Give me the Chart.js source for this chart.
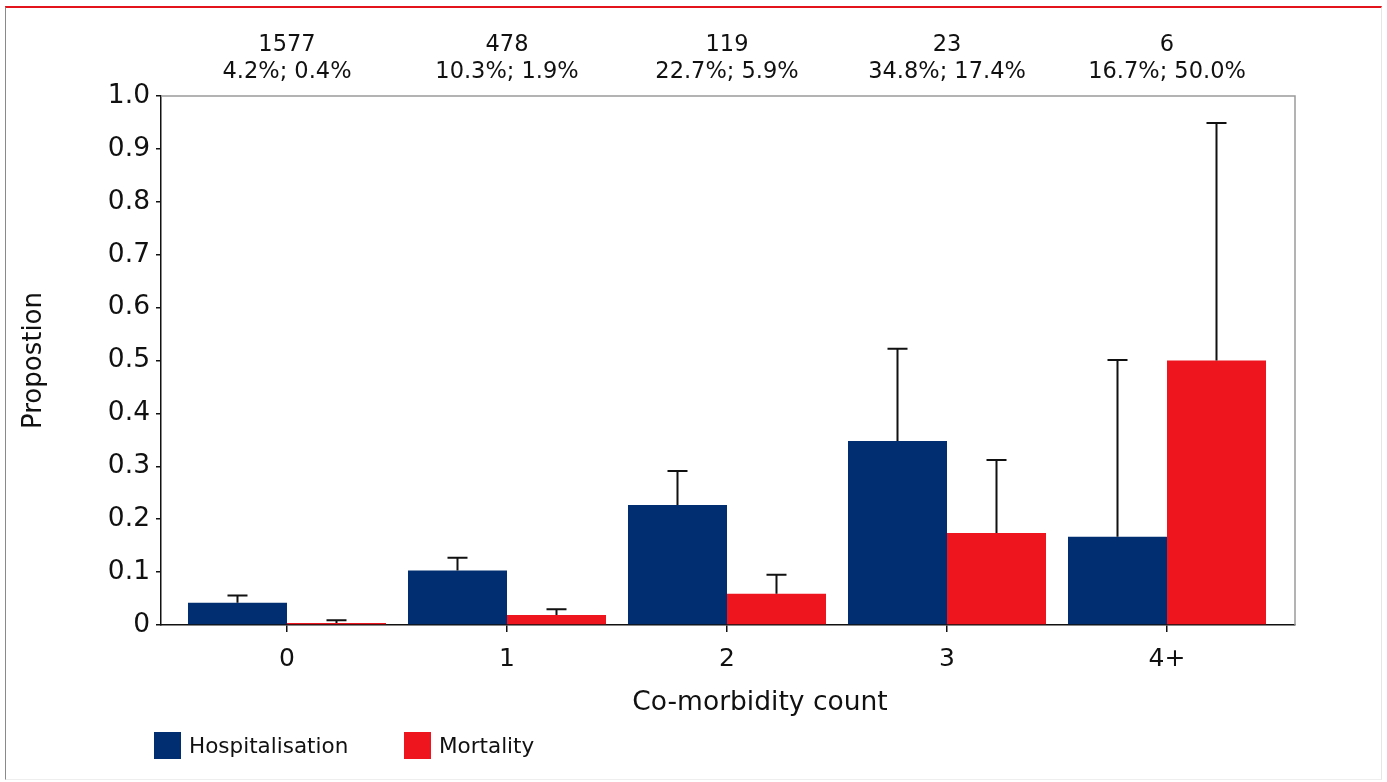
<!DOCTYPE html>
<html>
<head>
<meta charset="utf-8">
<script src="https://cdn.jsdelivr.net/npm/chart.js@4.4.1/dist/chart.umd.min.js"></script>
<style>
  html, body { margin: 0; padding: 0; background: #fff; }
  #frame {
    position: absolute; left: 5px; top: 6px; width: 1375px; height: 771px;
    border-top: 2px solid #e3141c; border-left: 1px solid #8a8a8a;
    border-right: 1px solid #e6e6e6; border-bottom: 1px solid #eeeeee;
  }
  #chart { position: absolute; left: 0; top: 0; }
</style>
</head>
<body>
<div id="frame"></div>
<canvas id="chart" width="1387" height="782"></canvas>
<script>
// data
const categories = ['0', '1', '2', '3', '4+'];
const patientCounts = ['1577', '478', '119', '23', '6'];
const hospitalisationPct = [4.2, 10.3, 22.7, 34.8, 16.7];
const mortalityPct = [0.4, 1.9, 5.9, 17.4, 50.0];
const hospitalisationUpper = [0.056, 0.127, 0.291, 0.522, 0.501];
const mortalityUpper = [0.009, 0.030, 0.095, 0.312, 0.949];
const yTicks = [0, 0.1, 0.2, 0.3, 0.4, 0.5, 0.6, 0.7, 0.8, 0.9, 1.0];

const BLUE = '#012e70';
const RED = '#ee151f';
const FONT = 'DejaVu Sans, Verdana, sans-serif';

function toPoints(pcts) {
    return pcts.map((p, i) => ({ x: i, y: p / 100 }));
}

// box: grey top/right edges of the plot
const plotBox = {
    id: 'plotBox',
    beforeDatasetsDraw(chart) {
        const a = chart.chartArea, c = chart.ctx;
        c.save();
        c.strokeStyle = '#9a9a9a';
        c.lineWidth = 1.5;
        c.beginPath();
        c.moveTo(a.left, a.top);
        c.lineTo(a.right, a.top);
        c.lineTo(a.right, a.bottom);
        c.stroke();
        c.restore();
    }
};

// upper error bars
const errorBars = {
    id: 'errorBars',
    afterDatasetsDraw(chart) {
        const c = chart.ctx, y = chart.scales.y;
        const uppers = [hospitalisationUpper, mortalityUpper];
        c.save();
        c.strokeStyle = '#111';
        c.lineWidth = 2;
        chart.data.datasets.forEach((ds, di) => {
            chart.getDatasetMeta(di).data.forEach((bar, i) => {
                const top = y.getPixelForValue(uppers[di][i]);
                c.beginPath();
                c.moveTo(bar.x, bar.y);
                c.lineTo(bar.x, top);
                c.moveTo(bar.x - 10, top);
                c.lineTo(bar.x + 10, top);
                c.stroke();
            });
        });
        c.restore();
    }
};

// counts and percentages above the plot, x title and legend below
const annotations = {
    id: 'annotations',
    afterDraw(chart) {
        const c = chart.ctx, x = chart.scales.x;
        c.save();
        c.fillStyle = '#111';
        c.font = '22.5px ' + FONT;
        c.textAlign = 'center';
        c.textBaseline = 'middle';
        categories.forEach((cat, i) => {
            const px = x.getPixelForValue(i);
            c.fillText(patientCounts[i], px, 45);
            c.fillText(hospitalisationPct[i].toFixed(1) + '%; ' + mortalityPct[i].toFixed(1) + '%', px, 72);
        });
        // x axis title sits a little right of centre in the original
        c.font = '26.5px ' + FONT;
        c.fillText('Co-morbidity count', 760, 703);
        // legend
        const legendX = [154, 404];
        c.font = '21.5px ' + FONT;
        c.textAlign = 'left';
        chart.data.datasets.forEach((ds, di) => {
            c.fillStyle = ds.backgroundColor;
            c.fillRect(legendX[di], 732, 27, 27);
            c.fillStyle = '#111';
            c.fillText(ds.label, legendX[di] + 35, 747);
        });
        c.restore();
    }
};

new Chart(document.getElementById('chart'), {
    type: 'bar',
    data: {
        datasets: [
            { label: 'Hospitalisation', data: toPoints(hospitalisationPct), backgroundColor: BLUE },
            { label: 'Mortality', data: toPoints(mortalityPct), backgroundColor: RED }
        ]
    },
    options: {
        responsive: false,
        animation: false,
        layout: { padding: { left: 0, top: 96, right: 92, bottom: 0 } },
        categoryPercentage: 0.9,
        barPercentage: 1.0,
        plugins: { legend: { display: false }, tooltip: { enabled: false } },
        scales: {
            x: {
                type: 'linear',
                min: -0.5727,
                max: 4.5818,
                offset: false,
                afterBuildTicks: s => { s.ticks = categories.map((c, i) => ({ value: i })); },
                afterFit: s => { s.height = 157; },
                grid: { offset: false, drawOnChartArea: false, drawTicks: true, tickLength: 7, color: '#111', lineWidth: 1.5 },
                border: { display: true, color: '#111', width: 1.5 },
                ticks: {
                    callback: v => categories[v],
                    font: { family: FONT, size: 25 },
                    color: '#111',
                    padding: 12,
                    maxRotation: 0
                },
                title: { display: false }
            },
            y: {
                min: 0,
                max: 1,
                afterBuildTicks: s => { s.ticks = yTicks.map(v => ({ value: v })); },
                afterFit: s => { s.width = 161; },
                grid: { drawOnChartArea: false, drawTicks: true, tickLength: 5, color: '#111', lineWidth: 1.5 },
                border: { display: true, color: '#111', width: 1.5 },
                ticks: {
                    callback: v => (v === 0 ? '0' : v.toFixed(1)),
                    font: { family: FONT, size: 26.5 },
                    color: '#111',
                    padding: 6
                },
                title: {
                    display: true,
                    text: 'Propostion',
                    font: { family: FONT, size: 26 },
                    color: '#111',
                    padding: 19
                }
            }
        }
    },
    plugins: [plotBox, errorBars, annotations]
});
</script>
</body>
</html>
